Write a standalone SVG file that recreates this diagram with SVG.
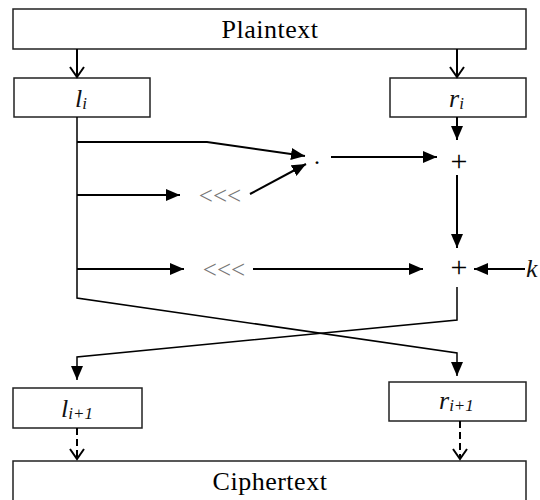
<svg xmlns="http://www.w3.org/2000/svg" width="540" height="500" viewBox="0 0 540 500">
<style>
.box{fill:#fff;stroke:#222;stroke-width:1.5}
.ln{fill:none;stroke:#000;stroke-width:2}
.thin{fill:none;stroke:#000;stroke-width:1.5}
.dash{fill:none;stroke:#000;stroke-width:2;stroke-dasharray:7,4}
.big{font-family:"Liberation Serif",serif;font-size:26px;fill:#000}
.var{font-family:"Liberation Serif",serif;font-style:italic;font-size:26px;fill:#111}
.sub{font-size:17px}
.op{font-family:"Liberation Serif",serif;font-size:30px;fill:#000}
.dot{font-family:"Liberation Serif",serif;font-size:24px;fill:#000}
.rot{font-family:"Liberation Serif",serif;font-size:25px;fill:#777}
</style>
<defs>
<marker id="fa" markerUnits="userSpaceOnUse" markerWidth="15" markerHeight="12" refX="14" refY="6" orient="auto">
<path d="M0,0 L14,6 L0,12 z" fill="#000"/>
</marker>
<marker id="va" markerUnits="userSpaceOnUse" markerWidth="14" markerHeight="16" refX="11" refY="8" orient="auto">
<path d="M1,1 L11,8 L1,15" fill="none" stroke="#000" stroke-width="2"/>
</marker>
</defs>
<g id="plaintext"><rect class="box" x="13" y="9" width="513" height="40"/><text class="big" x="270" y="38" text-anchor="middle" letter-spacing="0.5">Plaintext</text></g>
<g id="li"><rect class="box" x="14" y="78" width="136" height="39"/><text class="var" x="75" y="107">l<tspan class="sub" dy="2">i</tspan></text></g>
<g id="ri"><rect class="box" x="390" y="78" width="136" height="39"/><text class="var" x="449" y="107">r<tspan class="sub" dy="2">i</tspan></text></g>
<g id="li1"><rect class="box" x="13" y="388" width="129" height="40"/><text class="var" x="61" y="417">l<tspan class="sub" dy="2">i+1</tspan></text></g>
<g id="ri1"><rect class="box" x="389" y="382" width="137" height="39"/><text class="var" x="439" y="409">r<tspan class="sub" dy="2">i+1</tspan></text></g>
<g id="ciphertext"><rect class="box" x="13" y="461" width="513" height="45"/><text class="big" x="270" y="490" text-anchor="middle" letter-spacing="0.5">Ciphertext</text></g>
<g id="mul"><text class="dot" x="317" y="164" text-anchor="middle">.</text></g>
<g id="rot1"><text class="rot" x="220" y="204" text-anchor="middle">&lt;&lt;&lt;</text></g>
<g id="rot2"><text class="rot" x="224" y="278" text-anchor="middle">&lt;&lt;&lt;</text></g>
<g id="add1"><text class="op" x="459" y="171" text-anchor="middle">+</text></g>
<g id="add2"><text class="op" x="459" y="277" text-anchor="middle">+</text></g>
<g id="key"><text class="var" x="526" y="277">k</text></g>
<g id="connectors">
<line class="ln" x1="77" y1="49" x2="77" y2="77" marker-end="url(#va)"/>
<line class="ln" x1="457" y1="49" x2="457" y2="77" marker-end="url(#va)"/>
<polyline class="thin" points="77,117 77,298 457,353 457,376" marker-end="url(#fa)"/>
<polyline class="thin" points="457,287 457,320 77,357 77,380" marker-end="url(#fa)"/>
<polyline class="ln" points="77,142 207,142 305,156" marker-end="url(#fa)"/>
<line class="ln" x1="77" y1="195" x2="180" y2="195" marker-end="url(#fa)"/>
<line class="ln" x1="250" y1="194" x2="306" y2="164" marker-end="url(#fa)"/>
<line class="ln" x1="331" y1="157" x2="437" y2="157" marker-end="url(#fa)"/>
<line class="ln" x1="457" y1="117" x2="457" y2="140" marker-end="url(#fa)"/>
<line class="ln" x1="457" y1="175" x2="457" y2="248" marker-end="url(#fa)"/>
<line class="ln" x1="77" y1="269" x2="184" y2="269" marker-end="url(#fa)"/>
<line class="ln" x1="253" y1="269" x2="423" y2="269" marker-end="url(#fa)"/>
<line class="ln" x1="525" y1="269" x2="474" y2="269" marker-end="url(#fa)"/>
<line class="dash" x1="77" y1="428" x2="77" y2="459" marker-end="url(#va)"/>
<line class="dash" x1="460" y1="421" x2="460" y2="459" marker-end="url(#va)"/>
</g>
</svg>
